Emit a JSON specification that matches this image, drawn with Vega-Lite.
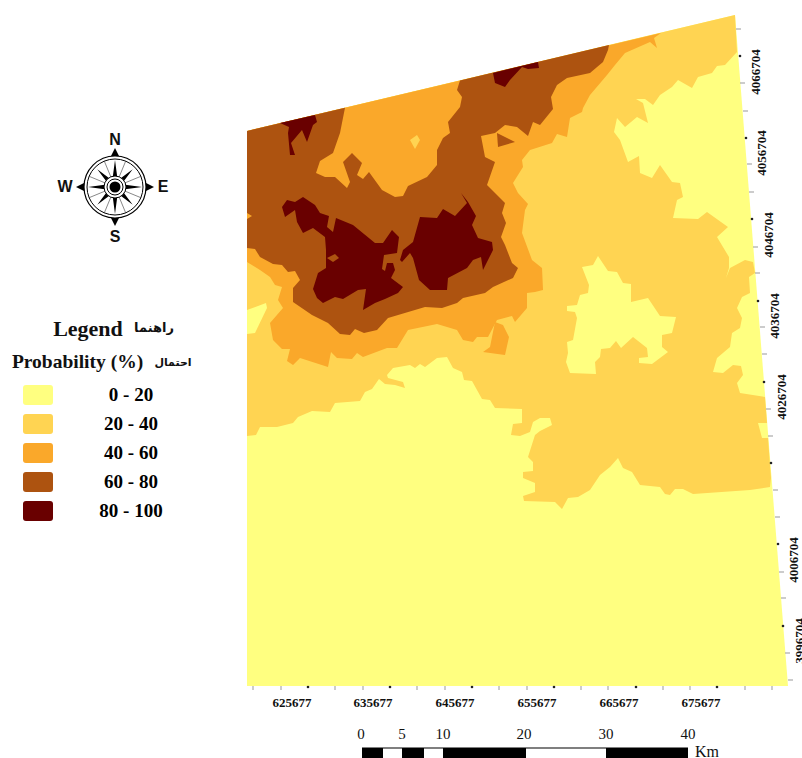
{
"$schema":"https://vega.github.io/schema/vega-lite/v6.json",
"width":802,"height":758,"padding":0,"autosize":{"type":"none"},
"background":"white",
"view":{"stroke":null},
"projection":{"type":"identity","reflectY":true,"scale":1,"translate":[247,686]},
"layer":[
{"data":{"values":[
{"type":"Feature","properties":{"level":"0 - 20"},"geometry":{"type":"Polygon","coordinates":[[[0,555],[488,671],[541,0],[0,0],[0,555]]]}},
{"type":"Feature","properties":{"level":"20 - 40"},"geometry":{"type":"Polygon","coordinates":[[[0,250],[9,251],[13,259],[30,259],[46,263],[51,269],[65,275],[83,274],[88,283],[113,285],[118,294],[125,297],[132,307],[138,302],[148,301],[158,298],[156,304],[141,308],[140,311],[146,318],[163,321],[168,318],[173,322],[178,319],[190,328],[200,329],[206,318],[215,314],[217,306],[225,305],[235,287],[243,286],[248,278],[275,277],[275,263],[266,262],[264,251],[273,250],[283,254],[286,264],[293,268],[303,268],[305,261],[293,255],[288,251],[281,229],[286,224],[286,215],[276,214],[276,208],[288,203],[288,194],[276,190],[277,185],[308,184],[315,177],[321,188],[331,189],[343,196],[353,211],[363,219],[371,228],[376,218],[385,214],[393,201],[413,199],[418,192],[423,191],[428,197],[436,197],[446,192],[503,196],[523,199],[524,208],[521,248],[515,248],[511,263],[520,263],[518,289],[493,293],[490,303],[496,311],[494,320],[486,321],[476,313],[466,314],[470,328],[483,339],[485,353],[493,358],[495,368],[490,378],[495,389],[503,393],[502,409],[508,413],[506,424],[498,426],[483,418],[479,408],[482,418],[482,429],[470,449],[481,459],[460,474],[451,467],[426,468],[430,486],[436,489],[433,503],[425,504],[413,521],[405,508],[393,513],[392,530],[381,524],[373,546],[367,554],[370,568],[378,559],[390,569],[401,563],[396,583],[389,587],[398,587],[406,581],[413,591],[425,599],[431,606],[445,598],[451,609],[465,613],[470,620],[478,621],[490,634],[488,671],[0,555],[0,250]]]}},
{"type":"Feature","properties":{"level":"0 - 20"},"geometry":{"type":"Polygon","coordinates":[[[351,430],[361,415],[370,414],[376,403],[384,402],[384,384],[401,388],[413,370],[429,369],[425,353],[415,351],[415,339],[421,334],[405,322],[392,323],[392,328],[401,329],[400,338],[386,349],[374,338],[369,345],[363,338],[354,337],[353,329],[348,324],[349,312],[323,313],[319,324],[321,333],[320,344],[326,346],[330,368],[328,374],[320,375],[320,380],[330,381],[333,391],[341,393],[342,401],[335,419],[346,421],[351,430]]]}},
{"type":"Feature","properties":{"level":"0 - 20"},"geometry":{"type":"Polygon","coordinates":[[[0,376],[19,383],[20,378],[8,353],[0,352],[0,376]]]}},
{"type":"Feature","properties":{"level":"40 - 60"},"geometry":{"type":"Polygon","coordinates":[[[0,424],[13,416],[23,409],[28,401],[35,399],[31,386],[36,378],[23,363],[26,346],[35,337],[43,337],[40,325],[46,321],[53,328],[81,319],[84,334],[90,328],[105,327],[110,333],[116,329],[140,338],[150,338],[161,356],[190,362],[210,356],[216,346],[226,344],[230,349],[241,349],[250,366],[265,370],[268,364],[280,378],[280,393],[288,394],[296,396],[295,418],[285,426],[275,453],[278,476],[281,482],[271,493],[266,503],[276,519],[275,526],[283,536],[305,543],[310,552],[320,549],[323,568],[335,574],[336,578],[343,591],[360,611],[368,621],[378,633],[403,644],[410,638],[407,648],[414,653],[0,555],[0,424]]]}},
{"type":"Feature","properties":{"level":"40 - 60"},"geometry":{"type":"Polygon","coordinates":[[[248,364],[256,361],[262,349],[258,331],[236,334],[243,339],[248,364]]]}},
{"type":"Feature","properties":{"level":"60 - 80"},"geometry":{"type":"Polygon","coordinates":[[[0,438],[8,437],[13,429],[26,422],[35,421],[41,414],[48,415],[53,406],[46,398],[46,384],[65,371],[81,363],[93,352],[103,351],[108,357],[117,353],[130,356],[141,368],[178,379],[195,378],[210,383],[216,388],[238,393],[246,399],[266,408],[271,418],[265,423],[258,441],[254,449],[259,463],[255,473],[258,483],[240,501],[248,524],[238,529],[234,550],[248,553],[258,561],[270,559],[281,550],[286,564],[293,561],[306,577],[304,589],[310,601],[320,608],[343,613],[356,624],[361,636],[362,641],[213,605.6],[210,596],[215,589],[213,579],[201,564],[203,553],[196,548],[190,536],[190,521],[180,509],[161,500],[156,490],[148,489],[135,496],[122,514],[116,507],[110,511],[115,523],[105,533],[96,524],[103,504],[100,498],[88,509],[78,509],[69,513],[73,525],[86,533],[93,553],[98,578.3],[0,555],[0,438]]]}},
{"type":"Feature","properties":{"level":"20 - 40"},"geometry":{"type":"Polygon","coordinates":[[[163,546],[170,551],[173,546],[168,537],[163,546]]]}},
{"type":"Feature","properties":{"level":"40 - 60"},"geometry":{"type":"Polygon","coordinates":[[[0,473],[5,470],[0,467],[0,473]]]}},
{"type":"Feature","properties":{"level":"60 - 80"},"geometry":{"type":"Polygon","coordinates":[[[250,553],[268,544],[251,539],[250,553]]]}},
{"type":"Feature","properties":{"level":"80 - 100"},"geometry":{"type":"Polygon","coordinates":[[[33,563],[68,571],[70,564],[66,561],[60,544],[55,556],[44,543],[48,531],[43,531],[41,553],[42,559],[33,563]]]}},
{"type":"Feature","properties":{"level":"80 - 100"},"geometry":{"type":"Polygon","coordinates":[[[246,613],[291,624],[292,618],[281,617],[275,619],[263,606],[258,599],[248,603],[246,613]]]}},
{"type":"Feature","properties":{"level":"80 - 100"},"geometry":{"type":"Polygon","coordinates":[[[35,479],[40,486],[48,484],[56,489],[68,481],[73,473],[82,470],[80,459],[86,454],[89,468],[106,461],[128,443],[136,443],[145,456],[152,449],[150,433],[137,431],[135,417],[138,415],[140,423],[146,423],[148,416],[144,408],[156,399],[151,393],[138,387],[128,383],[116,376],[119,397],[111,396],[96,387],[88,389],[76,383],[70,388],[66,397],[71,413],[79,418],[79,436],[78,449],[66,458],[56,453],[50,464],[48,476],[38,469],[35,479]]]}},
{"type":"Feature","properties":{"level":"60 - 80"},"geometry":{"type":"Polygon","coordinates":[[[80,428],[88,432],[92,428],[86,424],[80,428]]]}},
{"type":"Feature","properties":{"level":"80 - 100"},"geometry":{"type":"Polygon","coordinates":[[[153,426],[156,436],[166,444],[173,469],[190,468],[196,477],[208,470],[220,483],[214,493],[221,484],[229,470],[225,461],[231,448],[245,444],[246,436],[236,416],[234,429],[226,426],[220,418],[201,408],[200,396],[183,396],[172,406],[166,428],[163,433],[155,424],[153,426]]]}}
]},
"mark":{"type":"geoshape","stroke":null},
"encoding":{"color":{"field":"properties.level","type":"nominal","scale":{"domain":["0 - 20","20 - 40","40 - 60","60 - 80","80 - 100"],"range":["#FFFF80","#FFD452","#FAA82A","#AD5310","#690000"]},
"legend":{"title":null,"orient":"none","legendX":28,"legendY":385,"symbolSize":400,"symbolStrokeWidth":0,"symbolType":"M-1.2,-1 H1.2 Q1.5,-1 1.5,-0.7 V0.7 Q1.5,1 1.2,1 H-1.2 Q-1.5,1 -1.5,0.7 V-0.7 Q-1.5,-1 -1.2,-1 Z","labelFont":"Liberation Serif","labelFontWeight":"bold","labelFontSize":19,"labelColor":"black","labelAlign":"center","labelOffset":83,"rowPadding":9,"padding":0}}}},
{"data":{"values":[
{"type":"Feature","geometry":{"type":"MultiLineString","coordinates":[[[6,0],[6,-4]],[[34,0],[34,-4]],[[88,0],[88,-4]],[[116,0],[116,-4]],[[170,0],[170,-4]],[[198,0],[198,-4]],[[252,0],[252,-4]],[[280,0],[280,-4]],[[334,0],[334,-4]],[[361,0],[361,-4]],[[416,0],[416,-4]],[[443,0],[443,-4]],[[498,0],[498,-4]],[[525,0],[525,-4]],[[489,657],[494,657]],[[493,603],[498,603]],[[496,575],[501,575]],[[500,522],[505,522]],[[502,494],[507,494]],[[506,439],[511,439]],[[508,413],[513,413]],[[513,359],[518,359]],[[515,332],[520,332]],[[519,277],[524,277]],[[521,250],[526,250]],[[526,196],[531,196]],[[528,169],[533,169]],[[532,114],[537,114]],[[534,88],[539,88]],[[538,33],[543,33]],[[541,6],[546,6]]]}}
]},"mark":{"type":"geoshape","filled":false,"stroke":"#999999","strokeWidth":1}},
{"data":{"values":[
{"gx":61,"gy":-1},{"gx":143,"gy":-1},{"gx":225,"gy":-1},{"gx":307,"gy":-1},{"gx":389,"gy":-1},{"gx":470,"gy":-1},
{"gx":493,"gy":630},{"gx":499,"gy":548},{"gx":505,"gy":467},{"gx":511,"gy":385},{"gx":517,"gy":304},{"gx":524,"gy":223},{"gx":531,"gy":142},{"gx":536,"gy":60}
]},"mark":{"type":"point","filled":true,"color":"#222222","size":7,"opacity":1},
"encoding":{"longitude":{"field":"gx","type":"quantitative"},"latitude":{"field":"gy","type":"quantitative"}}},
{"data":{"values":[
{"gx":45,"gy":-17,"label":"625677"},{"gx":126,"gy":-17,"label":"635677"},{"gx":208,"gy":-17,"label":"645677"},{"gx":290,"gy":-17,"label":"655677"},{"gx":372,"gy":-17,"label":"665677"},{"gx":454,"gy":-17,"label":"675677"}
]},"mark":{"type":"text","font":"Liberation Serif","fontWeight":"bold","fontSize":13,"align":"center","baseline":"middle","color":"#111111"},
"encoding":{"longitude":{"field":"gx","type":"quantitative"},"latitude":{"field":"gy","type":"quantitative"},"text":{"field":"label","type":"nominal"}}},
{"data":{"values":[
{"gx":509,"gy":614,"label":"4066704"},{"gx":515,"gy":533,"label":"4056704"},{"gx":522,"gy":451,"label":"4046704"},{"gx":528,"gy":370,"label":"4036704"},{"gx":535,"gy":289,"label":"4026704"},{"gx":547,"gy":126,"label":"4006704"},{"gx":553,"gy":45,"label":"3996704"}
]},"mark":{"type":"text","font":"Liberation Serif","fontWeight":"bold","fontSize":13,"align":"center","baseline":"middle","angle":270,"color":"#111111"},
"encoding":{"longitude":{"field":"gx","type":"quantitative"},"latitude":{"field":"gy","type":"quantitative"},"text":{"field":"label","type":"nominal"}}},
{"data":{"values":[
{"type":"Feature","geometry":{"type":"MultiPolygon","coordinates":[[[[115,-62],[136,-62],[136,-72],[115,-72],[115,-62]]],[[[155,-62],[177,-62],[177,-72],[155,-72],[155,-62]]],[[[196,-62],[279,-62],[279,-72],[196,-72],[196,-62]]],[[[359,-62],[441,-62],[441,-72],[359,-72],[359,-62]]],[[[115,-61.5],[441,-61.5],[441,-62.5],[115,-62.5],[115,-61.5]]]]}}
]},"mark":{"type":"geoshape","fill":"black","stroke":null}},
{"data":{"values":[
{"gx":114,"gy":-48,"label":"0"},{"gx":155,"gy":-48,"label":"5"},{"gx":196,"gy":-48,"label":"10"},{"gx":277,"gy":-48,"label":"20"},{"gx":359,"gy":-48,"label":"30"},{"gx":441,"gy":-48,"label":"40"}
]},"mark":{"type":"text","font":"Liberation Serif","fontSize":15,"align":"center","baseline":"middle","color":"#111111"},
"encoding":{"longitude":{"field":"gx","type":"quantitative"},"latitude":{"field":"gy","type":"quantitative"},"text":{"field":"label","type":"nominal"}}},
{"data":{"values":[{"gx":448,"gy":-66,"label":"Km"}]},
"mark":{"type":"text","font":"Liberation Serif","fontSize":16,"align":"left","baseline":"middle","color":"#111111"},
"encoding":{"longitude":{"field":"gx","type":"quantitative"},"latitude":{"field":"gy","type":"quantitative"},"text":{"field":"label","type":"nominal"}}},
{"data":{"values":[
{"type":"Feature","geometry":{"type":"MultiLineString","coordinates":[[[-121.3,524.9],[-142.7,473.1]],[[-106.1,509.7],[-157.9,488.3]],[[-142.7,524.9],[-121.3,473.1]],[[-157.9,509.7],[-106.1,488.3]]]}}
]},"mark":{"type":"geoshape","filled":false,"stroke":"#555555","strokeWidth":0.7}},
{"data":{"values":[
{"type":"Feature","geometry":{"type":"MultiPolygon","coordinates":[[[[-132,526],[-129.3,505.5],[-114.3,516.7],[-125.5,501.7],[-105,499],[-125.5,496.3],[-114.3,481.3],[-129.3,492.5],[-132,472],[-134.7,492.5],[-149.7,481.3],[-138.5,496.3],[-159,499],[-138.5,501.7],[-149.7,516.7],[-134.7,505.5],[-132,526]]],[[[-132,538],[-136,530],[-128,530],[-132,538]]],[[[-132,460],[-136,468],[-128,468],[-132,460]]],[[[-93,499],[-101,503],[-101,495],[-93,499]]],[[[-171,499],[-163,503],[-163,495],[-171,499]]]]}}
]},"mark":{"type":"geoshape","fill":"black","stroke":null}},
{"data":{"name":"hub","values":[{"gx":-132,"gy":499}]},"mark":{"type":"point","filled":false,"stroke":"black","strokeWidth":1.2,"size":3844,"opacity":1},
"encoding":{"longitude":{"field":"gx","type":"quantitative"},"latitude":{"field":"gy","type":"quantitative"}}},
{"data":{"name":"hub"},"mark":{"type":"point","filled":false,"stroke":"black","strokeWidth":1,"size":3136,"opacity":1},
"encoding":{"longitude":{"field":"gx","type":"quantitative"},"latitude":{"field":"gy","type":"quantitative"}}},
{"data":{"name":"hub"},"mark":{"type":"point","filled":true,"fill":"white","stroke":"black","strokeWidth":1,"size":484,"opacity":1},
"encoding":{"longitude":{"field":"gx","type":"quantitative"},"latitude":{"field":"gy","type":"quantitative"}}},
{"data":{"name":"hub"},"mark":{"type":"point","filled":false,"stroke":"black","strokeWidth":1,"size":256,"opacity":1},
"encoding":{"longitude":{"field":"gx","type":"quantitative"},"latitude":{"field":"gy","type":"quantitative"}}},
{"data":{"name":"hub"},"mark":{"type":"point","filled":true,"fill":"black","size":121,"opacity":1},
"encoding":{"longitude":{"field":"gx","type":"quantitative"},"latitude":{"field":"gy","type":"quantitative"}}},
{"data":{"values":[
{"gx":-132,"gy":546,"label":"N"},{"gx":-132,"gy":449,"label":"S"},{"gx":-182,"gy":499,"label":"W"},{"gx":-84,"gy":499,"label":"E"}
]},"mark":{"type":"text","font":"Liberation Sans","fontWeight":"bold","fontSize":16,"align":"center","baseline":"middle","color":"#111111"},
"encoding":{"longitude":{"field":"gx","type":"quantitative"},"latitude":{"field":"gy","type":"quantitative"},"text":{"field":"label","type":"nominal"}}},
{"data":{"values":[{"gx":-159,"gy":357,"label":"Legend"}]},
"mark":{"type":"text","font":"Liberation Serif","fontWeight":"bold","fontSize":22,"align":"center","baseline":"middle","color":"#111111"},
"encoding":{"longitude":{"field":"gx","type":"quantitative"},"latitude":{"field":"gy","type":"quantitative"},"text":{"field":"label","type":"nominal"}}},
{"data":{"values":[{"gx":-169.5,"gy":324,"label":"Probability (%)"}]},
"mark":{"type":"text","font":"Liberation Serif","fontWeight":"bold","fontSize":19.5,"align":"center","baseline":"middle","color":"#111111"},
"encoding":{"longitude":{"field":"gx","type":"quantitative"},"latitude":{"field":"gy","type":"quantitative"},"text":{"field":"label","type":"nominal"}}},
{"data":{"values":[{"gx":-93,"gy":358,"label":"راهنما"}]},
"mark":{"type":"text","font":"DejaVu Sans","fontWeight":"bold","fontSize":13,"align":"center","baseline":"middle","color":"#111111"},
"encoding":{"longitude":{"field":"gx","type":"quantitative"},"latitude":{"field":"gy","type":"quantitative"},"text":{"field":"label","type":"nominal"}}},
{"data":{"values":[{"gx":-74,"gy":323,"label":"احتمال"}]},
"mark":{"type":"text","font":"DejaVu Sans","fontWeight":"bold","fontSize":11,"align":"center","baseline":"middle","color":"#111111"},
"encoding":{"longitude":{"field":"gx","type":"quantitative"},"latitude":{"field":"gy","type":"quantitative"},"text":{"field":"label","type":"nominal"}}}
]
}
